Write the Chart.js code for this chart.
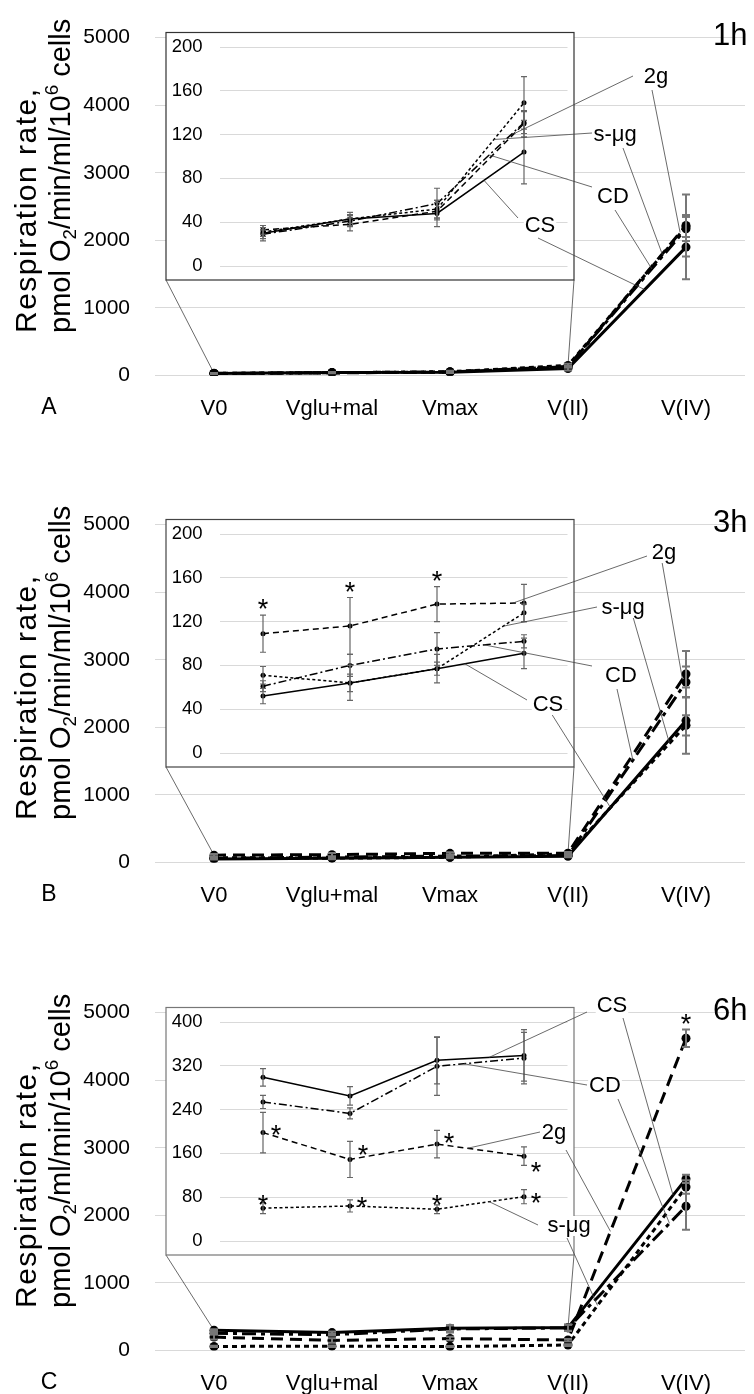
<!DOCTYPE html>
<html>
<head>
<meta charset="utf-8">
<script src="https://cdn.jsdelivr.net/npm/chart.js@4.4.0/dist/chart.umd.min.js"></script>
<style>
  html, body { margin: 0; padding: 0; background: #fff; }
  body { width: 754px; height: 1394px; overflow: hidden; position: relative; }
  .panel { position: absolute; left: 0; width: 754px; height: 487px; }
  .panel canvas { position: absolute; left: 0; top: 0; }
</style>
</head>
<body>
<div class="panel" style="top:0px"><canvas id="mainA" width="754" height="487"></canvas><canvas id="insetA" width="754" height="487"></canvas></div>
<div class="panel" style="top:487px"><canvas id="mainB" width="754" height="487"></canvas><canvas id="insetB" width="754" height="487"></canvas></div>
<div class="panel" style="top:975px"><canvas id="mainC" width="754" height="487"></canvas><canvas id="insetC" width="754" height="487"></canvas></div>
<script>
// categories and tick labels
const phases = ['V0', 'Vglu+mal', 'Vmax', 'V(II)', 'V(IV)'];
const groups = ['CS', 'CD', '2g', 's-μg'];
const mainTicks = [0, 1000, 2000, 3000, 4000, 5000];
const insetTicks1h = [0, 40, 80, 120, 160, 200];
const insetTicks3h = [0, 40, 80, 120, 160, 200];
const insetTicks6h = [0, 80, 160, 240, 320, 400];

// 1 h
const cs1h = [30, 43, 48, 104, 1900];
const cd1h = [29, 41, 57, 131, 2170];
const twoG1h = [33, 38, 50, 130, 2220];
const smg1h = [31, 43, 52, 149, 2200];
const cs1hErr = [7, 6, 12, 29, 475];
const cd1hErr = [4, 5, 14, 10, 180];
const twoG1hErr = [4, 6, 8, 12, 460];
const smg1hErr = [4, 4, 8, 24, 150];

// 3 h
const cs3h = [52, 64, 77, 91, 2100];
const cd3h = [61, 80, 95, 102, 2670];
const twoG3h = [109, 116, 136, 137, 2790];
const smg3h = [71, 64, 77, 128, 2030];
const cs3hErr = [7, 16, 13, 14, 490];
const cd3hErr = [5, 10, 15, 6, 230];
const twoG3hErr = [17, 26, 16, 17, 340];
const smg3hErr = [8, 8, 6, 8, 150];

// 6 h
const cs6h = [299, 265, 330, 339, 2540];
const cd6h = [254, 233, 319, 334, 2134];
const twoG6h = [198, 149, 177, 155, 4620];
const smg6h = [60, 64, 58, 81, 2420];
const cs6hErr = [16, 17, 43, 47, 60];
const cd6hErr = [12, 10, 53, 47, 346];
const twoG6hErr = [37, 33, 25, 17, 130];
const smg6hErr = [10, 11, 8, 13, 100];

const FONT = "'Liberation Sans', Arial, sans-serif";
Chart.defaults.font.family = FONT;
Chart.defaults.color = '#000';

// fixed geometry of a panel (pixels inside a panel)
const PLOT = { left: 155, right: 745, top: 23.3, bottom: 375.5 };
const BOX = { left: 166, top: 32.5, right: 574, bottom: 280 };
const INSET = { left: 219.5, right: 567.5, top: 47, bottom: 266 };

const mainDash = { 'CS': [], 'CD': [14, 5, 4, 5], '2g': [12, 7], 's-μg': [5, 4] };
const insetDash = { 'CS': [], 'CD': [8, 3, 2, 3], '2g': [6, 4], 's-μg': [3, 2.5] };

const panels = [
  {
    key: 'A', letter: 'A', time: '1h', unit: '/min/ml/10', boxColor: '#333',
    values: [cs1h, cd1h, twoG1h, smg1h], errors: [cs1hErr, cd1hErr, twoG1hErr, smg1hErr],
    insetTicks: insetTicks1h,
    labels: [
      { t: '2g', x: 656, y: 77, lines: [{ dx: -23, dy: -1, on: 'inset', s: '2g', seg: 2, f: 0.885 }, { dx: -4, dy: 13, on: 'main', s: '2g', seg: 3, f: 0.95 }] },
      { t: 's-μg', x: 615, y: 135, lines: [{ dx: -23, dy: -2, on: 'inset', s: 's-μg', seg: 2, f: 0.655 }, { dx: 8, dy: 13, on: 'main', s: 's-μg', seg: 3, f: 0.8 }] },
      { t: 'CD', x: 613, y: 197, lines: [{ dx: -21, dy: -10, on: 'inset', s: 'CD', seg: 2, f: 0.6 }, { dx: 2, dy: 13, on: 'main', s: 'CD', seg: 3, f: 0.71 }] },
      { t: 'CS', x: 540, y: 226, lines: [{ dx: -22, dy: -8, on: 'inset', s: 'CS', seg: 2, f: 0.54 }, { dx: -2, dy: 12, on: 'main', s: 'CS', seg: 3, f: 0.65 }] }
    ],
    stars: [], mainStars: []
  },
  {
    key: 'B', letter: 'B', time: '3h', unit: '/min/ml/10', boxColor: '#444',
    values: [cs3h, cd3h, twoG3h, smg3h], errors: [cs3hErr, cd3hErr, twoG3hErr, smg3hErr],
    insetTicks: insetTicks3h,
    labels: [
      { t: '2g', x: 664, y: 66, lines: [{ dx: -17, dy: 3, on: 'inset', s: '2g', seg: 2, f: 0.87 }, { dx: -2, dy: 9, on: 'main', s: '2g', seg: 3, f: 0.97 }] },
      { t: 's-μg', x: 623, y: 121, lines: [{ dx: -26, dy: -1, on: 'inset', s: 's-μg', seg: 2, f: 0.76 }, { dx: 10, dy: 9, on: 'main', s: 's-μg', seg: 3, f: 0.86 }] },
      { t: 'CD', x: 621, y: 189, lines: [{ dx: -29, dy: -10, on: 'inset', s: 'CD', seg: 2, f: 0.54 }, { dx: -4, dy: 13, on: 'main', s: 'CD', seg: 3, f: 0.55 }] },
      { t: 'CS', x: 548, y: 218, lines: [{ dx: -21, dy: -5, on: 'inset', s: 'CS', seg: 2, f: 0.32 }, { dx: 3, dy: 8, on: 'main', s: 'CS', seg: 3, f: 0.36 }] }
    ],
    stars: [
      { s: '2g', i: 0, dx: 0, dy: -12.5, ref: 'top' },
      { s: '2g', i: 1, dx: 0, dy: -12.5, ref: 'top' },
      { s: '2g', i: 2, dx: 0, dy: -12.5, ref: 'top' }
    ],
    mainStars: []
  },
  {
    key: 'C', letter: 'C', time: '6h', unit: '/ml/min/10', boxColor: '#777',
    values: [cs6h, cd6h, twoG6h, smg6h], errors: [cs6hErr, cd6hErr, twoG6hErr, smg6hErr],
    insetTicks: insetTicks6h,
    labels: [
      { t: 'CS', x: 612, y: 31, lines: [{ dx: -25, dy: 6, on: 'inset', s: 'CS', seg: 2, f: 0.6 }, { dx: 11, dy: 12, on: 'main', s: 'CS', seg: 3, f: 0.89 }] },
      { t: 'CD', x: 605, y: 111, lines: [{ dx: -18, dy: -1, on: 'inset', s: 'CD', seg: 2, f: 0.31 }, { dx: 13, dy: 13, on: 'main', s: 'CD', seg: 3, f: 0.86 }] },
      { t: '2g', x: 554, y: 158, lines: [{ dx: -14, dy: -1, on: 'inset', s: '2g', seg: 2, f: 0.35 }, { dx: 12, dy: 17, on: 'main', s: '2g', seg: 3, f: 0.36 }] },
      { t: 's-μg', x: 569, y: 251, lines: [{ dx: -31, dy: -1, on: 'inset', s: 's-μg', seg: 2, f: 0.6 }, { dx: -2, dy: 12, on: 'main', s: 's-μg', seg: 3, f: 0.25 }] }
    ],
    stars: [
      { s: '2g', i: 0, dx: 13, dy: -4, ref: 'point' },
      { s: '2g', i: 1, dx: 13, dy: -11, ref: 'point' },
      { s: '2g', i: 2, dx: 12, dy: -8, ref: 'point' },
      { s: '2g', i: 3, dx: 12, dy: 9, ref: 'point' },
      { s: 's-μg', i: 0, dx: 0, dy: -10, ref: 'point' },
      { s: 's-μg', i: 1, dx: 12, dy: -6, ref: 'point' },
      { s: 's-μg', i: 2, dx: 0, dy: -11, ref: 'point' },
      { s: 's-μg', i: 3, dx: 12, dy: 0, ref: 'point' }
    ],
    mainStars: [{ s: '2g', i: 4, dx: 0, dy: -21, ref: 'point' }]
  }
];

/**
 * Pixel position on a series line, between point seg and seg+1
 */
function pointOnLine(chart, name, seg, f) {
  const ds = chart.data.datasets.find(d => d.label === name);
  const v = ds.data[seg] + (ds.data[seg + 1] - ds.data[seg]) * f;
  return [chart.scales.x.getPixelForValue(seg + f), chart.scales.y.getPixelForValue(v)];
}

function drawStar(ctx, chart, st) {
  const ds = chart.data.datasets.find(d => d.label === st.s);
  const v = st.ref === 'top' ? ds.data[st.i] + ds.errors[st.i] : ds.data[st.i];
  const x = chart.scales.x.getPixelForValue(st.i) + st.dx;
  const y = chart.scales.y.getPixelForValue(v) + st.dy;
  ctx.font = '27px ' + FONT;
  ctx.textAlign = 'center';
  ctx.textBaseline = 'alphabetic';
  ctx.fillStyle = '#000';
  ctx.fillText('*', x, y + 0.58 * 27);
}

// error bars, drawn from each dataset's errors array
const errorBars = {
  id: 'errorBars',
  afterDatasetsDraw(chart, args, opts) {
    const ctx = chart.ctx;
    const ys = chart.scales.y;
    ctx.save();
    ctx.strokeStyle = opts.color;
    ctx.lineWidth = opts.width;
    chart.data.datasets.forEach((ds, i) => {
      const meta = chart.getDatasetMeta(i);
      ds.errors.forEach((e, j) => {
        const p = meta.data[j];
        if (!p || !e) return;
        const y1 = ys.getPixelForValue(ds.data[j] + e);
        const y2 = ys.getPixelForValue(ds.data[j] - e);
        ctx.beginPath();
        ctx.moveTo(p.x, y1); ctx.lineTo(p.x, y2);
        ctx.moveTo(p.x - opts.cap, y1); ctx.lineTo(p.x + opts.cap, y1);
        ctx.moveTo(p.x - opts.cap, y2); ctx.lineTo(p.x + opts.cap, y2);
        ctx.stroke();
      });
    });
    ctx.restore();
  }
};

function makeDatasets(panel, n, dash, width, radius) {
  return groups.map((g, k) => ({
    label: g,
    data: panel.values[k].slice(0, n),
    errors: panel.errors[k].slice(0, n),
    borderColor: '#000',
    borderWidth: width,
    borderDash: dash[g],
    pointRadius: radius,
    pointBackgroundColor: '#000',
    pointBorderWidth: 0,
    tension: 0,
    fill: false
  }));
}

function drawAxisTitle(ctx, unit) {
  const fs = 29;
  const lines = [
    { base: 36, size: 30, spacing: '1.5px', parts: [{ t: 'Respiration rate,' }] },
    { base: 70, size: fs, spacing: '0px', parts: [{ t: 'pmol O' }, { t: '2', sub: true }, { t: unit }, { t: '6', sup: true }, { t: ' cells' }] }
  ];
  ctx.save();
  ctx.fillStyle = '#000';
  ctx.textBaseline = 'alphabetic';
  ctx.textAlign = 'left';
  lines.forEach(line => {
    ctx.save();
    ctx.translate(line.base, 333);
    ctx.rotate(-Math.PI / 2);
    if ('letterSpacing' in ctx) ctx.letterSpacing = line.spacing;
    let pos = 0;
    line.parts.forEach(p => {
      const size = (p.sub || p.sup) ? line.size * 0.65 : line.size;
      ctx.font = size + 'px ' + FONT;
      const dy = p.sub ? line.size * 0.22 : (p.sup ? -line.size * 0.42 : 0);
      ctx.fillText(p.t, pos, dy);
      pos += ctx.measureText(p.t).width;
    });
    ctx.restore();
  });
  ctx.restore();
}

const charts = {};

panels.forEach(panel => {
  // main chart
  const mainDeco = {
    id: 'mainDeco',
    beforeDatasetsDraw(chart) {
      const ctx = chart.ctx;
      const xs = chart.scales.x, ys = chart.scales.y;
      // zoom connector lines from the inset box to the first and fourth points
      const top0 = Math.max(...panel.values.map(v => v[0]));
      const top3 = Math.max(...panel.values.map(v => v[3]));
      ctx.save();
      ctx.strokeStyle = '#444';
      ctx.lineWidth = 0.8;
      ctx.beginPath();
      ctx.moveTo(BOX.left, BOX.bottom);
      ctx.lineTo(xs.getPixelForValue(0), ys.getPixelForValue(top0));
      ctx.moveTo(BOX.right, BOX.bottom);
      ctx.lineTo(xs.getPixelForValue(3), ys.getPixelForValue(top3));
      ctx.stroke();
      ctx.restore();
    },
    afterDraw(chart) {
      const ctx = chart.ctx;
      drawAxisTitle(ctx, panel.unit);
      ctx.save();
      ctx.fillStyle = '#000';
      ctx.font = '23px ' + FONT;
      ctx.textAlign = 'center';
      ctx.textBaseline = 'alphabetic';
      ctx.fillText(panel.letter, 49, 414);
      ctx.font = '31px ' + FONT;
      ctx.textAlign = 'left';
      ctx.fillText(panel.time, 713, 45);
      panel.mainStars.forEach(st => drawStar(ctx, chart, st));
      ctx.restore();
    }
  };

  const main = new Chart(document.getElementById('main' + panel.key), {
    type: 'line',
    data: { labels: phases, datasets: makeDatasets(panel, 5, mainDash, 3, 4.5) },
    plugins: [errorBars, mainDeco],
    options: {
      responsive: false,
      animation: false,
      events: [],
      layout: { padding: { left: 0, right: 754 - PLOT.right, top: PLOT.top, bottom: 487 - PLOT.bottom - 50 } },
      scales: {
        x: {
          offset: true,
          grid: { display: false, drawTicks: false },
          border: { display: false },
          ticks: { font: { size: 22 }, color: '#000', padding: 20, maxRotation: 0, autoSkip: false },
          afterFit: s => { s.height = 50; }
        },
        y: {
          min: mainTicks[0],
          max: mainTicks[mainTicks.length - 1],
          afterBuildTicks: s => { s.ticks = mainTicks.map(v => ({ value: v })); },
          grid: { color: '#d9d9d9', lineWidth: 1, drawTicks: false },
          border: { display: false },
          ticks: { font: { size: 21 }, color: '#000', padding: 25, callback: v => String(v) },
          afterFit: s => { s.width = PLOT.left; }
        }
      },
      plugins: {
        legend: { display: false },
        tooltip: { enabled: false },
        errorBars: { color: '#777', width: 2, cap: 4 }
      }
    }
  });
  charts['main' + panel.key] = main;

  // inset chart, same canvas size, drawn on top
  const insetDeco = {
    id: 'insetDeco',
    beforeDraw(chart) {
      const ctx = chart.ctx;
      ctx.save();
      ctx.fillStyle = '#fff';
      ctx.fillRect(BOX.left, BOX.top, BOX.right - BOX.left, BOX.bottom - BOX.top);
      ctx.strokeStyle = panel.boxColor;
      ctx.lineWidth = 1.2;
      ctx.strokeRect(BOX.left, BOX.top, BOX.right - BOX.left, BOX.bottom - BOX.top);
      ctx.restore();
    },
    afterDraw(chart) {
      const ctx = chart.ctx;
      ctx.save();
      panel.stars.forEach(st => drawStar(ctx, chart, st));
      // labels with leader lines to both charts
      ctx.strokeStyle = '#444';
      ctx.lineWidth = 0.8;
      panel.labels.forEach(lb => {
        lb.lines.forEach(ln => {
          const target = pointOnLine(ln.on === 'inset' ? chart : main, ln.s, ln.seg, ln.f);
          ctx.beginPath();
          ctx.moveTo(lb.x + ln.dx, lb.y + ln.dy);
          ctx.lineTo(target[0], target[1]);
          ctx.stroke();
        });
      });
      ctx.font = '22px ' + FONT;
      ctx.textAlign = 'center';
      ctx.textBaseline = 'middle';
      panel.labels.forEach(lb => {
        const w = ctx.measureText(lb.t).width;
        ctx.fillStyle = '#fff';
        ctx.fillRect(lb.x - w / 2 - 1, lb.y - 10, w + 2, 20);
        ctx.fillStyle = '#000';
        ctx.fillText(lb.t, lb.x, lb.y);
      });
      ctx.restore();
    }
  };

  const it = panel.insetTicks;
  charts['inset' + panel.key] = new Chart(document.getElementById('inset' + panel.key), {
    type: 'line',
    data: { labels: phases.slice(0, 4), datasets: makeDatasets(panel, 4, insetDash, 1.5, 2.5) },
    plugins: [insetDeco, errorBars],
    options: {
      responsive: false,
      animation: false,
      events: [],
      layout: { padding: { left: BOX.left, right: 754 - INSET.right, top: INSET.top, bottom: 487 - INSET.bottom } },
      scales: {
        x: { offset: true, display: false },
        y: {
          min: it[0],
          max: it[it.length - 1],
          afterBuildTicks: s => { s.ticks = it.map(v => ({ value: v })); },
          grid: { color: '#d9d9d9', lineWidth: 1, drawTicks: false },
          border: { display: false },
          ticks: { font: { size: 18.5 }, color: '#000', padding: 17, callback: v => String(v) },
          afterFit: s => { s.width = INSET.left - BOX.left; }
        }
      },
      plugins: {
        legend: { display: false },
        tooltip: { enabled: false },
        errorBars: { color: '#666', width: 1.2, cap: 3 }
      }
    }
  });
});
</script>
</body>
</html>
